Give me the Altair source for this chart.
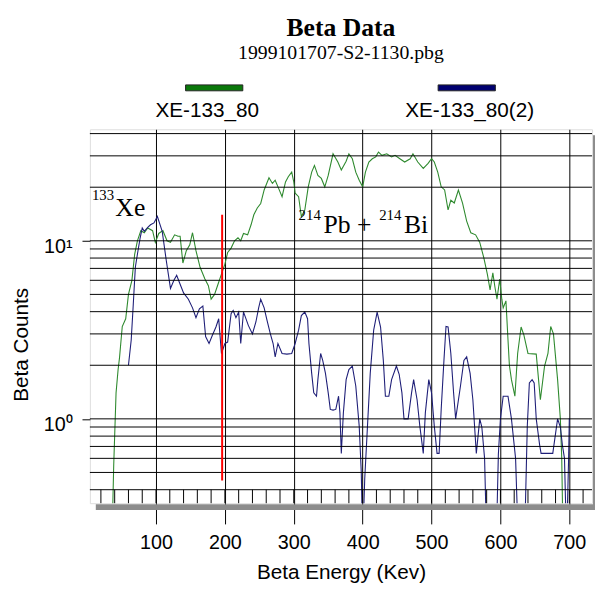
import altair as alt
import pandas as pd

# ---------------- data ----------------
series_names = ["XE-133_80", "XE-133_80(2)"]

green_energy = [36, 38.6, 42, 45, 47, 51, 56, 60, 65, 69, 73, 78, 83, 88, 95, 99, 104, 110, 116, 121,
                127, 132, 135, 139, 144, 149, 153, 158, 164, 171, 176, 180, 185, 190, 195, 200, 204, 209,
                214, 219, 223, 227, 233, 238, 242, 247, 252, 257, 264, 269, 273, 278, 283, 288, 292, 297,
                300, 302, 307, 311, 316, 321, 326, 330, 335, 340, 345, 350, 357, 364, 369, 376, 380, 385,
                390, 395, 400, 404, 409, 414, 419, 423, 428, 435, 442, 447, 454, 461, 469, 473, 480, 488,
                495, 500, 504, 509, 514, 519, 524, 528, 533, 539, 545, 551, 557, 564, 570, 576, 581, 585,
                589, 592, 595, 599, 602, 604, 608, 611, 613, 616, 621, 625, 630, 634, 640, 652, 658, 664,
                669, 673, 677, 683, 687, 689, 691]
green_counts = [0.2, 0.55, 1.4, 1.9, 2.2, 3.3, 3.65, 5.0, 6.0, 8.4, 10, 11.4, 11.1, 11.8, 11.4, 9.8, 11, 11.4, 10, 9.8,
                10.8, 10.6, 10.6, 7.5, 8.8, 9.5, 11.1, 8.8, 7.1, 6.1, 5.6, 4.7, 5.0, 5.7, 6.5, 7.4, 8.6, 9.1,
                10, 10.4, 10, 11, 10.8, 12.3, 14, 15.3, 16.2, 19.3, 22.6, 21, 21.9, 19.7, 17.7, 21.4, 22.9, 24.3,
                21.4, 18.5, 17.7, 13.7, 14.9, 20.1, 24.3, 26.5, 23.3, 22.4, 20.1, 23.3, 30.8, 27.7, 25, 28, 30.8, 28.9,
                24.3, 21.9, 20.1, 24.3, 27.7, 28.9, 29.6, 31.5, 30.2, 30.8, 29.6, 30.2, 28.9, 27.7, 28.9, 30.8, 27.7, 25.5,
                27.2, 28.9, 27.7, 24.3, 20.1, 19.3, 14.9, 16.9, 16.3, 19.3, 16.3, 12.9, 11.1, 10.8, 9.8, 8.0, 6.5, 5.3,
                6.6, 5.5, 4.7, 6.1, 4.7, 4.2, 4.6, 2.77, 2.0, 1.66, 1.34, 2.33, 3.28, 2.96, 2.33, 2.31, 1.28, 1.97,
                2.33, 3.3, 3.0, 1.66, 1.0, 0.6, 0.2]

navy_energy = [60, 64, 67, 70, 73, 77, 80, 83, 88, 92, 97, 102, 105, 109, 115, 121, 126, 130, 135, 140,
               147, 153, 158, 163, 168, 172, 177, 182, 187, 191, 195, 200, 204, 209, 212, 216, 220, 223, 227,
               230, 234, 240, 245, 249, 252, 257, 261, 266, 270, 273, 277, 283, 290, 297, 302, 307, 311, 316,
               320, 322, 326, 329, 333, 335, 339, 342, 346, 350, 353, 357, 361, 365, 367, 369, 372, 376, 380,
               385, 390, 395, 398, 400, 403, 407, 411, 416, 421, 426, 430, 433, 438, 442, 449, 453, 457, 460,
               466, 471, 474, 479, 483, 488, 491, 496, 500, 504, 508, 511, 514, 518, 521, 524, 528, 532, 535,
               542, 547, 551, 556, 560, 565, 570, 573, 577, 580, 594, 597, 600, 604, 611, 616, 622, 626, 635,
               639, 642, 646, 649, 652, 657, 659, 676, 683, 687, 690, 693, 696, 699, 700, 701]
navy_counts = [2.0, 2.77, 4.4, 7.1, 8.4, 10.4, 11.8, 11.3, 11.9, 12.3, 12.6, 13.7, 12.6, 11.3, 7.7, 5.4, 6.0, 6.4, 5.7, 5.1,
               4.7, 4.2, 3.7, 4.15, 4.3, 2.9, 2.65, 2.96, 3.28, 3.65, 2.33, 2.65, 2.7, 3.9, 4.06, 3.7, 3.98, 2.65, 3.98,
               3.7, 3.35, 3.0, 3.5, 4.2, 4.7, 4.2, 3.6, 3.0, 2.65, 2.23, 2.65, 2.33, 2.31, 2.33, 2.65, 3.15, 3.8, 3.98,
               3.65, 2.65, 1.8, 1.4, 1.34, 1.66, 2.33, 2.13, 1.8, 1.4, 1.13, 1.12, 1.13, 1.34, 1.08, 0.64, 1.08, 1.66, 1.89,
               1.98, 1.53, 0.91, 0.5, 0.2, 0.46, 0.91, 1.8, 3.15, 3.98, 3.28, 2.13, 1.34, 1.34, 1.66, 1.98, 1.78, 1.4, 1.0,
               1.0, 1.4, 1.66, 1.28, 0.91, 0.64, 1.08, 1.66, 1.4, 0.91, 0.64, 0.64, 1.13, 2.13, 3.3, 3.28, 2.33, 1.4, 1.0,
               1.53, 2.13, 2.23, 1.8, 1.28, 0.64, 1.0, 0.9, 0.6, 0.2, 0.2, 0.63, 1.0, 1.34, 1.34, 1.0, 0.6, 0.2, 0.2,
               0.91, 1.59, 1.66, 1.59, 1.0, 0.71, 0.64, 0.64, 1.0, 0.9, 0.71, 0.6, 0.2, 0.6, 1.0, 1.0]

x_ticks = [100, 200, 300, 400, 500, 600, 700]
x_minor = [20, 40, 60, 80, 100, 120, 140, 160, 180, 200, 220, 240, 260, 280, 300, 320, 340, 360,
           380, 400, 420, 440, 460, 480, 500, 520, 540, 560, 580, 600, 620, 640, 660, 680, 700, 720]
y_label_ticks = [1, 10]
y_grid = [0.4, 0.5, 0.6, 0.7, 0.8, 0.9, 1, 2, 3, 4, 5, 6, 7, 8, 9, 10, 20, 30, 40]

marker_energy = [196]
marker_low = [0.45]
marker_high = [14]

annot_text = ["133", "Xe", "214", "Pb +", "214", "Bi"]
annot_energy = [7, 41, 307, 343, 424, 460]
annot_counts = [16.9, 13.8, 13.1, 11.1, 13.1, 11.1]
annot_super = [True, False, True, False, True, False]

# ---------------- styling / layout ----------------
W, H = 509, 379
X_DOM = [4, 733]
Y_DOM = [0.336, 42.3]
line_colors = ["#2f8a2f", "#1f1f78"]
legend_colors = ["#0a780a", "#000070"]
legend_bar_centers = [126, 382]
legend_label_centers = [119, 385]
SANS = "Liberation Sans"
SERIF = "Liberation Serif"

xs = alt.Scale(domain=X_DOM, nice=False, zero=False)
ys = alt.Scale(type="log", domain=Y_DOM, nice=False)

df = pd.concat([
    pd.DataFrame({"energy": green_energy, "counts": green_counts, "series": series_names[0]}),
    pd.DataFrame({"energy": navy_energy, "counts": navy_counts, "series": series_names[1]}),
])

x_axis = alt.Axis(values=x_ticks, grid=True, gridColor="black", gridOpacity=1, gridWidth=1,
                  tickSize=21, tickColor="black", tickWidth=1, domain=False,
                  labelFont=SANS, labelFontSize=20, labelColor="black", labelPadding=9,
                  title="Beta Energy (Kev)", titleFont=SANS, titleFontSize=21,
                  titleFontWeight="normal", titleColor="black", titlePadding=9)
y_axis = alt.Axis(values=y_label_ticks, grid=False, tickSize=8, tickColor="black", tickWidth=1,
                  domain=False, labelExpr="datum.value == 1 ? '10⁰' : '10¹'",
                  labelFont=SANS, labelFontSize=20, labelColor="black", labelPadding=10,
                  labelBaseline="middle", labelOffset=6,
                  title="Beta Counts", titleFont=SANS, titleFontSize=21, titleFontWeight="normal",
                  titleColor="black", titleAngle=270, titleX=-69, titleY=218,
                  titleAlign="center", titleBaseline="middle")


def X(field):
    return alt.X(field, scale=xs, axis=x_axis)


def Y(field):
    return alt.Y(field, scale=ys, axis=y_axis)


lines = alt.Chart(df).mark_line(clip=True, strokeWidth=1.1).encode(
    x=X("energy:Q"),
    y=Y("counts:Q"),
    color=alt.Color("series:N", scale=alt.Scale(domain=series_names, range=line_colors), legend=None),
    order="energy:Q",
)

hgrid = alt.Chart(pd.DataFrame({"v": y_grid})).mark_rule(color="black", strokeWidth=1).encode(
    y=Y("v:Q"))

boxes = alt.Chart(pd.DataFrame({"e": x_minor})).mark_rule(color="black", strokeWidth=1).encode(
    x=X("e:Q"), y=alt.datum(0.4), y2=alt.datum(Y_DOM[0]))

shadow_bottom = alt.Chart(pd.DataFrame({"a": [0]})).mark_rect(color="#8c8c8c").encode(
    x=alt.value(6), x2=alt.value(W + 6), y=alt.value(H + 1), y2=alt.value(H + 7))
shadow_right = alt.Chart(pd.DataFrame({"a": [0]})).mark_rect(color="#8c8c8c").encode(
    x=alt.value(W + 1), x2=alt.value(W + 6), y=alt.value(6), y2=alt.value(H + 7))

marker = alt.Chart(pd.DataFrame({"e": marker_energy, "lo": marker_low, "hi": marker_high})).mark_rule(
    color="#ff0000", strokeWidth=2).encode(x=X("e:Q"), y=Y("lo:Q"), y2="hi:Q")

adf = pd.DataFrame({"t": annot_text, "e": annot_energy, "c": annot_counts, "sup": annot_super})
annot_big = alt.Chart(adf[~adf["sup"]]).mark_text(align="left", baseline="alphabetic", font=SERIF,
                                                  fontSize=26, color="black").encode(
    x=X("e:Q"), y=Y("c:Q"), text="t:N")
annot_sup = alt.Chart(adf[adf["sup"]]).mark_text(align="left", baseline="alphabetic", font=SERIF,
                                                 fontSize=15, color="black").encode(
    x=X("e:Q"), y=Y("c:Q"), text="t:N")

layers = [lines, hgrid, boxes, shadow_bottom, shadow_right, marker, annot_big, annot_sup]

# legend: coloured bars above the series names
for name, col, bx, lx in zip(series_names, legend_colors, legend_bar_centers, legend_label_centers):
    one = pd.DataFrame({"s": [name]})
    layers.append(alt.Chart(one).mark_rect(color=col, stroke="#222222", strokeWidth=1).encode(
        x=alt.value(bx - 29), x2=alt.value(bx + 29), y=alt.value(-45), y2=alt.value(-39)))
    layers.append(alt.Chart(one).mark_text(font=SANS, fontSize=21, color="black", align="center",
                                           baseline="alphabetic").encode(
        x=alt.value(lx), y=alt.value(-12), text="s:N"))

# titles
layers.append(alt.Chart(pd.DataFrame({"s": ["Beta Data"]})).mark_text(
    font=SERIF, fontSize=26, fontWeight="bold", color="black", align="center", baseline="alphabetic").encode(
    x=alt.value(W / 2), y=alt.value(-95), text="s:N"))
layers.append(alt.Chart(pd.DataFrame({"s": ["1999101707-S2-1130.pbg"]})).mark_text(
    font=SERIF, fontSize=20, color="black", align="center", baseline="alphabetic").encode(
    x=alt.value(W / 2), y=alt.value(-71), text="s:N"))

chart = alt.layer(*layers).properties(
    width=W, height=H,
    autosize=alt.AutoSizeParams(type="none"),
    padding={"left": 83, "top": 119, "right": 3, "bottom": 80},
).configure_view(stroke="black", strokeWidth=1.2).configure(background="white")

chart.save("out.html", embed_options={"renderer": "svg", "actions": False})
